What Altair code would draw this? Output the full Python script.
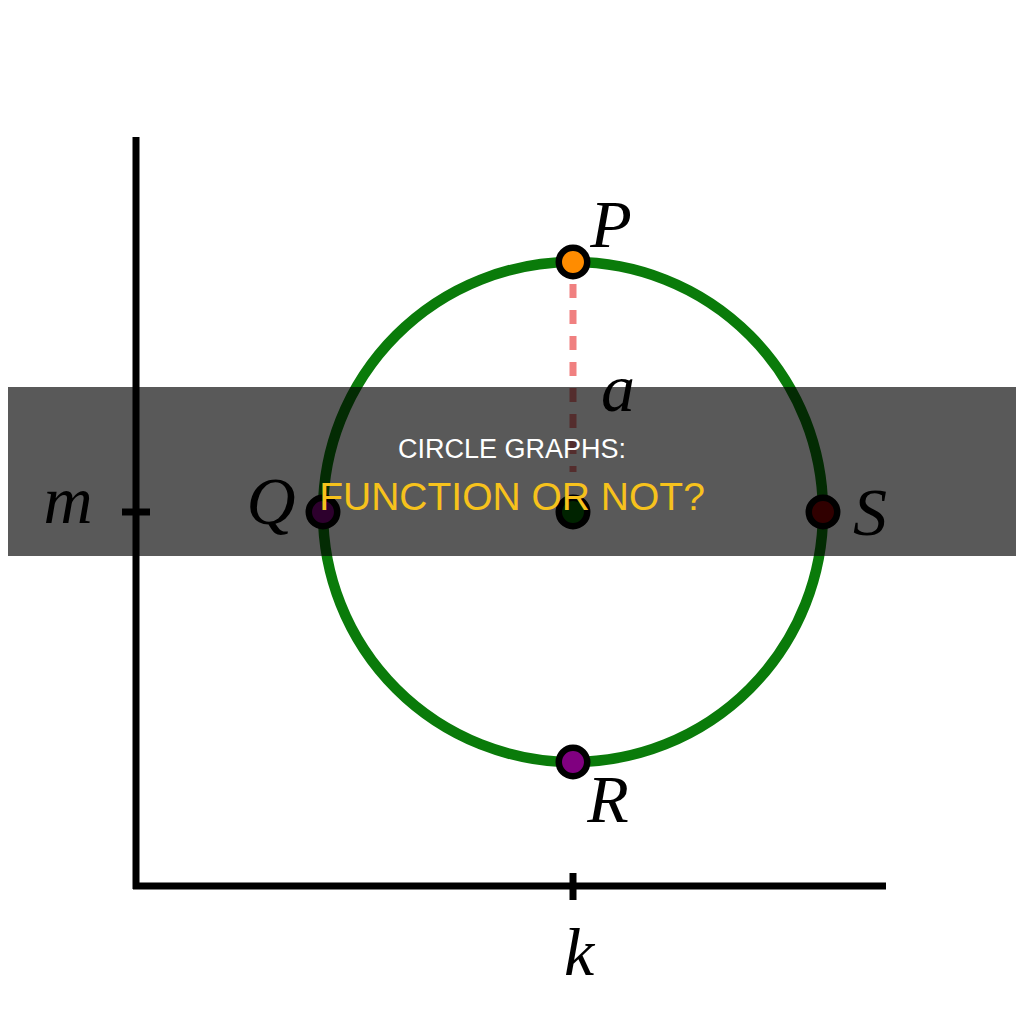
import altair as alt
import pandas as pd

# ---- diagram geometry (image pixel coordinates) ----
axis_x = [136, 133]
axis_y = [137, 886]
axis_x2 = [136, 886]
axis_y2 = [889, 886]

tick_x = [122, 573]
tick_y = [512, 873]
tick_x2 = [150, 573]
tick_y2 = [512, 900]

circle_cx = [573]
circle_cy = [512]
circle_r = 250

dash_x = [573]
dash_y = [284]
dash_y2 = [472]

pt_names = ["P", "Q", "S", "R", "C"]
pt_x = [573, 323, 823, 573, 573]
pt_y = [262, 512, 512, 762, 512]
pt_fill = ["#ff8c00", "#800080", "#8b0000", "#800080", "#006400"]

lbl_text = ["P", "Q", "S", "R", "a", "m", "k"]
lbl_x = [611, 271, 870, 608, 618, 68, 579]
lbl_y = [247, 524, 535, 822, 411, 523, 975]

band_y = [387]
band_y2 = [556]

title_lines = ["CIRCLE GRAPHS:", "FUNCTION OR NOT?"]
title_x = [512, 512]
title_y = [458, 510]
title_color = ["#ffffff", "#f7c21c"]
title_size = [27, 39]

X = alt.Scale(domain=[8, 1016], nice=False, zero=False)
Y = alt.Scale(domain=[8, 1016], nice=False, zero=False, reverse=True)

def xq(f):
    return alt.X(f, type="quantitative", scale=X, axis=None)

def yq(f):
    return alt.Y(f, type="quantitative", scale=Y, axis=None)

axes_df = pd.DataFrame({"x": axis_x, "y": axis_y, "x2": axis_x2, "y2": axis_y2})
axes = alt.Chart(axes_df).mark_rule(color="black", strokeWidth=7).encode(
    x=xq("x"), y=yq("y"), x2="x2", y2="y2")

ticks_df = pd.DataFrame({"x": tick_x, "y": tick_y, "x2": tick_x2, "y2": tick_y2})
ticks = alt.Chart(ticks_df).mark_rule(color="black", strokeWidth=7).encode(
    x=xq("x"), y=yq("y"), x2="x2", y2="y2")

circ_df = pd.DataFrame({"x": circle_cx, "y": circle_cy})
circle = alt.Chart(circ_df).mark_point(
    shape="circle", filled=False, color="#0a7b0a", strokeWidth=10.5, opacity=1
).encode(x=xq("x"), y=yq("y"), size=alt.value((2 * circle_r) ** 2))

dash_df = pd.DataFrame({"x": dash_x, "y": dash_y, "y2": dash_y2})
dash = alt.Chart(dash_df).mark_rule(
    color="#f08080", strokeWidth=7, strokeDash=[14, 12]
).encode(x=xq("x"), y=yq("y"), y2="y2")

pts_df = pd.DataFrame({"name": pt_names, "x": pt_x, "y": pt_y, "fill": pt_fill})
pts = alt.Chart(pts_df).mark_point(
    shape="circle", filled=True, stroke="black", strokeWidth=6.5, opacity=1, fillOpacity=1
).encode(x=xq("x"), y=yq("y"), fill=alt.Fill("fill:N", scale=None),
         size=alt.value(810))

lbl_df = pd.DataFrame({"t": lbl_text, "x": lbl_x, "y": lbl_y})
labels = alt.Chart(lbl_df).mark_text(
    font="Liberation Serif", fontStyle="italic", fontSize=68, color="black",
    align="center", baseline="alphabetic"
).encode(x=xq("x"), y=yq("y"), text="t:N")

band_df = pd.DataFrame({"y": band_y, "y2": band_y2})
band = alt.Chart(band_df).mark_rect(color="black", opacity=0.65).encode(
    x=alt.value(-10), x2=alt.value(1030), y=yq("y"), y2="y2")

title_df = pd.DataFrame({"t": title_lines, "x": title_x, "y": title_y,
                         "c": title_color, "s": title_size})
titles = alt.Chart(title_df).mark_text(
    font="Liberation Sans", align="center", baseline="alphabetic"
).encode(x=xq("x"), y=yq("y"), text="t:N",
         color=alt.Color("c:N", scale=None),
         size=alt.Size("s:Q", scale=None))

chart = alt.layer(axes, ticks, circle, dash, pts, labels, band, titles).properties(
    width=1008, height=1008, padding=0, autosize="none", background="white"
).configure_view(stroke=None)

chart.save("out.html", embed_options={"renderer": "svg", "actions": False})
